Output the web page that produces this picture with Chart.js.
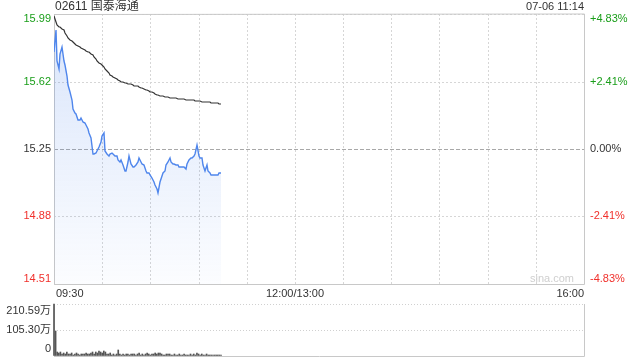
<!DOCTYPE html>
<html>
<head>
<meta charset="utf-8">
<script src="https://cdn.jsdelivr.net/npm/chart.js@4.4.1/dist/chart.umd.min.js"></script>
<style>
    html, body { margin: 0; padding: 0; background: #fff; }
    #wrap { position: relative; width: 640px; height: 360px; }
    #price-chart { position: absolute; left: 0; top: 0; }
    #volume-chart { position: absolute; left: 0; top: 300px; }
</style>
</head>
<body>
<div id="wrap">
    <canvas id="price-chart" width="640" height="300"></canvas>
    <canvas id="volume-chart" width="640" height="60"></canvas>
</div>
<script>
'use strict';

const stockTitle = '02611 国泰海通';
const stampText = '07-06 11:14';
const prevClose = 15.25;

// tick labels
const priceTicks = [14.51, 14.88, 15.25, 15.62, 15.99];
const pctTicks = ['-4.83%', '-2.41%', '0.00%', '+2.41%', '+4.83%'];
const sessionMinutes = 330; // 09:30-12:00 + 13:00-16:00
const timeTicks = [0, 150, 330];
const timeLabels = ['09:30', '12:00/13:00', '16:00'];
const volTicks = [0, 105.30, 210.59];
const volLabels = ['0', '105.30万', '210.59万'];

// one value per minute from 09:30 to 11:14
const price = [
    15.78, 15.90, 15.73, 15.69, 15.77, 15.81, 15.73, 15.71, 15.65, 15.60,
    15.56, 15.52, 15.47, 15.45, 15.44, 15.41, 15.41, 15.42, 15.40, 15.39,
    15.38, 15.36, 15.34, 15.31, 15.22, 15.22, 15.23, 15.24, 15.26, 15.29,
    15.32, 15.34, 15.24, 15.22, 15.21, 15.22, 15.23, 15.22, 15.21, 15.21,
    15.19, 15.18, 15.19, 15.16, 15.13, 15.13, 15.18, 15.21, 15.17, 15.15,
    15.15, 15.16, 15.18, 15.20, 15.18, 15.17, 15.16, 15.13, 15.12, 15.12,
    15.11, 15.09, 15.07, 15.05, 15.03, 15.01, 15.07, 15.10, 15.12, 15.13,
    15.16, 15.18, 15.20, 15.18, 15.17, 15.17, 15.16, 15.16, 15.15, 15.15,
    15.15, 15.15, 15.14, 15.17, 15.19, 15.20, 15.20, 15.21, 15.22, 15.27,
    15.21, 15.20, 15.20, 15.16, 15.13, 15.16, 15.13, 15.12, 15.11, 15.11,
    15.11, 15.11, 15.11, 15.12, 15.12
];

const avgPrice = [
    15.979, 15.946, 15.930, 15.921, 15.916, 15.910, 15.902, 15.886, 15.872, 15.861,
    15.850, 15.842, 15.834, 15.826, 15.820, 15.812, 15.807, 15.804, 15.798, 15.793,
    15.789, 15.784, 15.779, 15.771, 15.763, 15.752, 15.741, 15.730, 15.724, 15.716,
    15.709, 15.702, 15.691, 15.680, 15.669, 15.658, 15.650, 15.644, 15.637, 15.631,
    15.626, 15.622, 15.618, 15.616, 15.614, 15.612, 15.609, 15.606, 15.604, 15.601,
    15.598, 15.595, 15.593, 15.591, 15.587, 15.583, 15.578, 15.573, 15.571, 15.568,
    15.565, 15.561, 15.556, 15.552, 15.548, 15.544, 15.542, 15.540, 15.538, 15.536,
    15.535, 15.533, 15.532, 15.531, 15.530, 15.528, 15.527, 15.526, 15.525, 15.524,
    15.523, 15.522, 15.521, 15.520, 15.519, 15.519, 15.518, 15.516, 15.515, 15.514,
    15.513, 15.512, 15.510, 15.509, 15.508, 15.507, 15.506, 15.505, 15.504, 15.503,
    15.502, 15.501, 15.500, 15.499, 15.498
];

// volume in 万 shares
const volume = [
    210.59, 100, 18, 14, 16, 10, 12, 8, 15, 7,
    9, 11, 6, 8, 13, 7, 6, 9, 10, 8,
    12, 7, 9, 14, 16, 10, 18, 12, 20, 15,
    11, 22, 17, 9, 8, 11, 6, 7, 5, 9,
    24, 10, 6, 8, 5, 7, 9, 6, 8, 10,
    7, 5, 9, 12, 6, 7, 5, 8, 13, 7,
    6, 10, 9, 12, 8, 14, 11, 7, 6, 5,
    8, 7, 9, 6, 5, 8, 6, 4, 7, 5,
    6, 9, 5, 4, 6, 7, 5, 8, 6, 11,
    7, 5, 8, 6, 5, 7, 4, 6, 5, 4,
    6, 5, 4, 3, 3
];

const upColor = '#1a9e1a';
const downColor = '#f0302b';
const textColor = '#333';
const fontStack = 'Arial, "Liberation Sans", "Noto Sans CJK SC", sans-serif';

function colorFor(value) {
    if (Math.abs(value - prevClose) < 0.001) return textColor;
    return value > prevClose ? upColor : downColor;
}

function drawFrame(chart, dottedTop) {
    const ctx = chart.ctx;
    const a = chart.chartArea;
    ctx.save();
    ctx.strokeStyle = '#c8c8c8';
    ctx.lineWidth = 1;
    ctx.beginPath();
    ctx.moveTo(a.left + 0.5, a.top);
    ctx.lineTo(a.left + 0.5, a.bottom + 0.5);
    ctx.lineTo(a.right + 0.5, a.bottom + 0.5);
    ctx.lineTo(a.right + 0.5, a.top);
    if (!dottedTop) {
        ctx.lineTo(a.left + 0.5, a.top + 0.5);
    }
    ctx.stroke();
    ctx.restore();
}

// Price panel
const priceLabelsPlugin = {
    id: 'priceLabels',
    beforeDatasetsDraw(chart) {
        drawFrame(chart, false);
    },
    afterDraw(chart) {
        const ctx = chart.ctx;
        const a = chart.chartArea;
        const xs = chart.scales.x;
        const ys = chart.scales.y;
        ctx.save();
        ctx.textBaseline = 'middle';

        ctx.font = '11px ' + fontStack;
        priceTicks.forEach(function(v, i) {
            let py = ys.getPixelForValue(v);
            if (i === 0) py -= 5;
            if (i === priceTicks.length - 1) py += 5;
            ctx.fillStyle = colorFor(v);
            ctx.textAlign = 'right';
            ctx.fillText(v.toFixed(2), a.left - 3, py);
            ctx.textAlign = 'left';
            ctx.fillText(pctTicks[i], a.right + 6, py);
        });

        // time axis labels
        ctx.fillStyle = textColor;
        timeTicks.forEach(function(t, i) {
            const px = xs.getPixelForValue(t);
            ctx.textAlign = i === 0 ? 'left' : (i === timeTicks.length - 1 ? 'right' : 'center');
            ctx.fillText(timeLabels[i], px + (i === 0 ? 2 : 0), a.bottom + 10);
        });

        // watermark
        ctx.fillStyle = '#cfcfcf';
        ctx.textAlign = 'right';
        ctx.fillText('sina.com', a.right - 10, a.bottom - 5);

        // title and time stamp
        ctx.fillStyle = textColor;
        ctx.font = '12px ' + fontStack;
        ctx.textAlign = 'left';
        ctx.fillText(stockTitle, a.left + 1, 7);
        ctx.font = '11px ' + fontStack;
        ctx.textAlign = 'right';
        ctx.fillText(stampText, a.right, 7);
        ctx.restore();
    }
};

new Chart(document.getElementById('price-chart').getContext('2d'), {
    type: 'line',
    data: {
        datasets: [
            {
                label: 'avg',
                data: avgPrice.map(function(v, i) { return { x: i, y: v }; }),
                borderColor: '#333',
                borderWidth: 1.2,
                pointRadius: 0,
                fill: false,
                tension: 0
            },
            {
                label: 'price',
                data: price.map(function(v, i) { return { x: i, y: v }; }),
                borderColor: '#4f86ec',
                borderWidth: 1.4,
                pointRadius: 0,
                tension: 0,
                fill: 'start',
                backgroundColor: function(context) {
                    const area = context.chart.chartArea;
                    if (!area) return 'rgba(79,134,236,0.12)';
                    const g = context.chart.ctx.createLinearGradient(0, area.top, 0, area.bottom);
                    g.addColorStop(0, 'rgba(79,134,236,0.22)');
                    g.addColorStop(1, 'rgba(79,134,236,0.02)');
                    return g;
                }
            }
        ]
    },
    options: {
        responsive: false,
        animation: false,
        events: [],
        layout: { padding: { left: 54, right: 56, top: 14, bottom: 16 } },
        plugins: { legend: { display: false }, tooltip: { enabled: false } },
        scales: {
            x: {
                type: 'linear',
                min: 0,
                max: sessionMinutes,
                alignToPixels: true,
                afterBuildTicks: function(scale) {
                    const t = [];
                    for (let m = 0; m <= sessionMinutes; m += 30) t.push({ value: m });
                    scale.ticks = t;
                },
                ticks: { display: false },
                grid: { color: '#d6d6d6', lineWidth: 1, drawTicks: false },
                border: { display: false, dash: [2, 2] }
            },
            y: {
                type: 'linear',
                min: priceTicks[0],
                max: priceTicks[priceTicks.length - 1],
                alignToPixels: true,
                afterBuildTicks: function(scale) {
                    scale.ticks = priceTicks.map(function(v) { return { value: v }; });
                },
                ticks: { display: false },
                grid: {
                    drawTicks: false,
                    lineWidth: 1,
                    color: function(c) {
                        return c.tick && Math.abs(c.tick.value - prevClose) < 0.001 ? '#a8a8a8' : '#d6d6d6';
                    }
                },
                border: {
                    display: false,
                    dash: function(c) {
                        return c.tick && Math.abs(c.tick.value - prevClose) < 0.001 ? [4, 2] : [2, 2];
                    }
                }
            }
        }
    },
    plugins: [priceLabelsPlugin]
});

// Volume panel
const volumeLabelsPlugin = {
    id: 'volumeLabels',
    beforeDatasetsDraw(chart) {
        drawFrame(chart, true);
    },
    afterDraw(chart) {
        const ctx = chart.ctx;
        const a = chart.chartArea;
        const ys = chart.scales.y;
        ctx.save();
        ctx.font = '11px ' + fontStack;
        ctx.fillStyle = textColor;
        ctx.textAlign = 'right';
        ctx.textBaseline = 'middle';
        volTicks.forEach(function(v, i) {
            let py = ys.getPixelForValue(v);
            if (i === 0) py -= 7;
            if (i === volTicks.length - 1) py += 7;
            ctx.fillText(volLabels[i], a.left - 3, py);
        });
        ctx.restore();
    }
};

new Chart(document.getElementById('volume-chart').getContext('2d'), {
    type: 'bar',
    data: {
        datasets: [{
            label: 'volume',
            data: volume.map(function(v, i) { return { x: i, y: v }; }),
            backgroundColor: '#555',
            barThickness: 1,
            clip: false
        }]
    },
    options: {
        responsive: false,
        animation: false,
        events: [],
        layout: { padding: { left: 54, right: 56, top: 4, bottom: 4 } },
        plugins: { legend: { display: false }, tooltip: { enabled: false } },
        scales: {
            x: {
                type: 'linear',
                min: 0,
                max: sessionMinutes,
                display: false,
                offset: false
            },
            y: {
                type: 'linear',
                min: 0,
                max: volTicks[volTicks.length - 1],
                alignToPixels: true,
                afterBuildTicks: function(scale) {
                    scale.ticks = volTicks.map(function(v) { return { value: v }; });
                },
                ticks: { display: false },
                grid: { color: '#d0d0d0', lineWidth: 1, drawTicks: false },
                border: { display: false, dash: [1, 2] }
            }
        }
    },
    plugins: [volumeLabelsPlugin]
});
</script>
</body>
</html>
